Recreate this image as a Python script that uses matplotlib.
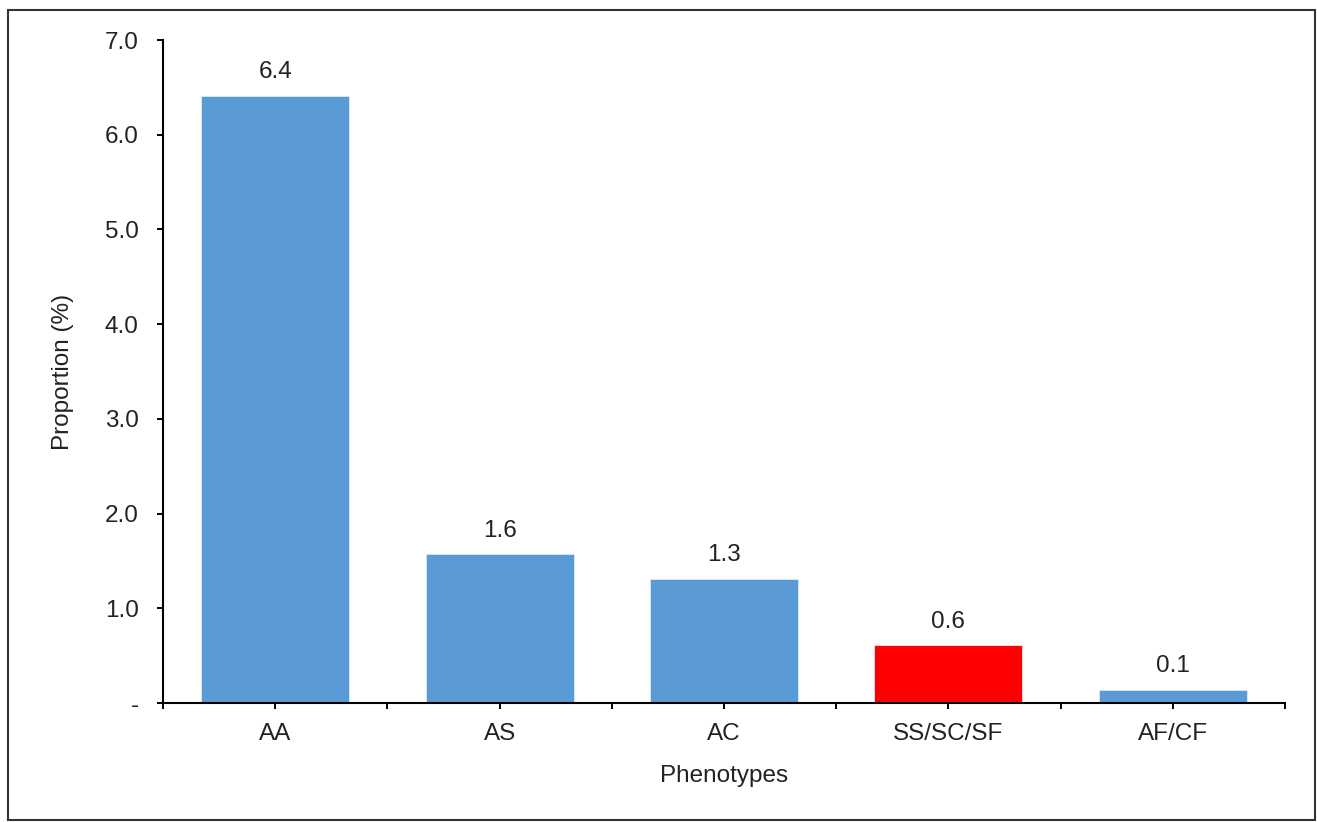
import matplotlib.pyplot as plt
from matplotlib.patches import Rectangle
import numpy as np

# Proportion of each phenotype (%)
phenotypes = ['AA', 'AS', 'AC', 'SS/SC/SF', 'AF/CF']
proportions = [6.41, 1.57, 1.31, 0.61, 0.14]
bar_colors = ['#5B9BD5', '#5B9BD5', '#5B9BD5', '#FF0000', '#5B9BD5']
y_ticks = [0, 1, 2, 3, 4, 5, 6, 7]
y_tick_labels = ['-', '1.0', '2.0', '3.0', '4.0', '5.0', '6.0', '7.0']

plt.rcParams['font.family'] = ['Liberation Sans', 'DejaVu Sans']
FS = 17.5

fig = plt.figure(figsize=(13.17, 8.22), dpi=100)
ax = fig.add_axes([163 / 1317, 1 - 703 / 822, (1285 - 163) / 1317, (703 - 40) / 822])

x = np.arange(len(phenotypes))
ax.bar(x, proportions, width=0.66, color=bar_colors, edgecolor='#DDEBF7', linewidth=0.6)

# value labels above bars
for xi, v in zip(x, proportions):
    ax.annotate(f'{v:.1f}', (xi, v), xytext=(0, 9), textcoords='offset points',
                ha='center', va='bottom', fontsize=FS, color='#222222')

ax.set_xlim(-0.5, len(phenotypes) - 0.5)
ax.set_ylim(0, 7)
ax.set_yticks(y_ticks)
ax.set_yticklabels(y_tick_labels)
ax.set_xticks(x)
ax.set_xticklabels(phenotypes)
ax.set_xticks(np.arange(-0.5, len(phenotypes), 1.0), minor=True)

ax.tick_params(axis='both', direction='out', length=4.5, width=1.4, labelsize=FS,
               colors='black', labelcolor='#222222')
ax.tick_params(axis='x', which='minor', direction='out', length=4.5, width=1.4)
ax.tick_params(axis='y', pad=13)
ax.tick_params(axis='x', which='major', pad=10)

for side in ['top', 'right']:
    ax.spines[side].set_visible(False)
for side in ['left', 'bottom']:
    ax.spines[side].set_linewidth(1.5)

ax.set_ylabel('Proportion (%)', fontsize=FS, color='#222222', labelpad=22)
ax.set_xlabel('Phenotypes', fontsize=FS, color='#222222', labelpad=14)

# outer frame around the chart
fig.patches.append(Rectangle((8 / 1317, 2 / 822), 1307 / 1317, 810 / 822,
                             transform=fig.transFigure, fill=False,
                             edgecolor='#333333', linewidth=1.5))

fig.savefig('out.png', dpi=100)
